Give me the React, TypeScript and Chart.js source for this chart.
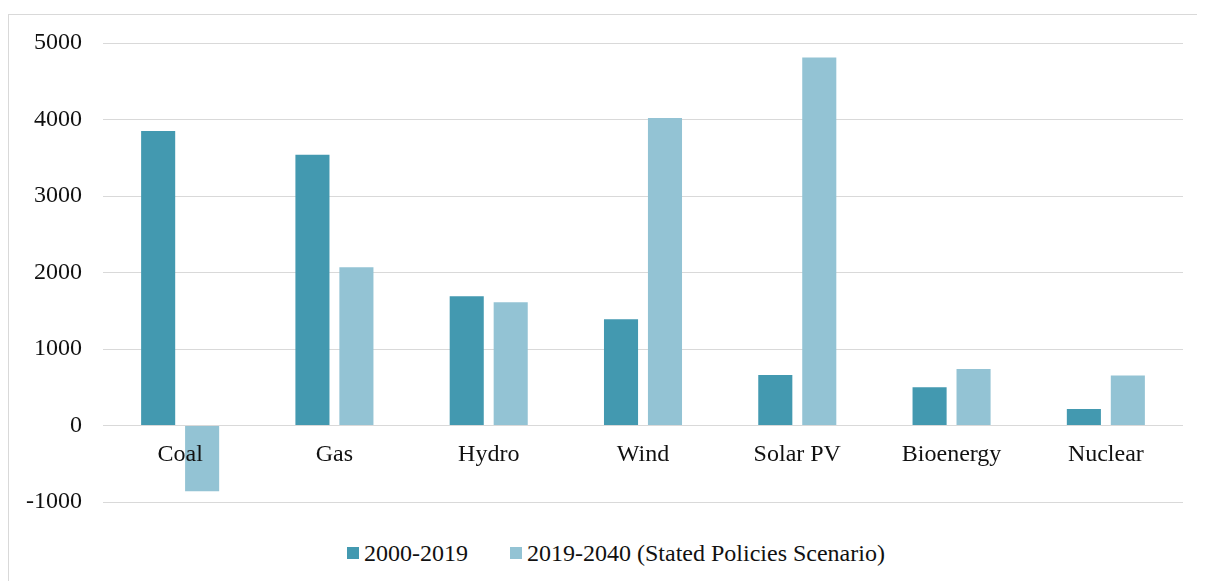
import React, { useEffect, useRef } from "react";
import { Chart, registerables } from "chart.js";

Chart.register(...registerables);

const categories = ["Coal", "Gas", "Hydro", "Wind", "Solar PV", "Bioenergy", "Nuclear"];
const series2000to2019 = [3850, 3540, 1690, 1390, 660, 500, 215];
const series2019to2040 = [-860, 2070, 1610, 4020, 4810, 740, 655];
const seriesLabels = ["2000-2019", "2019-2040 (Stated Policies Scenario)"];
const seriesColors = ["#4399B0", "#93C3D4"];
const yMin = -1000;
const yMax = 5000;
const yStep = 1000;

const FONT = "'Liberation Serif', 'Times New Roman', Times, serif";

export default function App() {
  const canvasRef = useRef<HTMLCanvasElement | null>(null);

  useEffect(() => {
    document.body.style.overflow = "hidden";
    const canvas = canvasRef.current;
    if (!canvas) return;
    const chart = new Chart(canvas, {
      type: "bar",
      data: {
        labels: categories,
        datasets: [
          {
            label: seriesLabels[0],
            data: series2000to2019,
            backgroundColor: seriesColors[0],
            borderWidth: 0,
          },
          {
            label: seriesLabels[1],
            data: series2019to2040,
            backgroundColor: seriesColors[1],
            borderWidth: 0,
          },
        ],
      },
      options: {
        responsive: false,
        animation: false,
        maintainAspectRatio: false,
        layout: { padding: { top: 28, bottom: 33, left: 0, right: 22 } },
        plugins: {
          legend: { display: false },
          tooltip: { enabled: false },
          title: { display: false },
        },
        datasets: {
          bar: { categoryPercentage: 0.57, barPercentage: 0.775 },
        },
        scales: {
          x: {
            position: { y: 0 } as any,
            z: 1,
            grid: { display: false, drawTicks: false },
            border: { display: false },
            ticks: {
              z: 1,
              color: "#111",
              font: { family: FONT, size: 24 },
              padding: 15,
              maxRotation: 0,
              autoSkip: false,
            },
          },
          y: {
            min: yMin,
            max: yMax,
            grid: { color: "#d9d9d9", lineWidth: 1, drawTicks: false },
            border: { display: false },
            ticks: {
              stepSize: yStep,
              color: "#111",
              font: { family: FONT, size: 24 },
              padding: 21,
              callback: (v: any) => String(v),
            },
            afterFit: (scale: any) => {
              scale.width = 94;
              scale.paddingTop = 0;
              scale.paddingBottom = 0;
            },
          },
        },
      },
    });
    return () => chart.destroy();
  }, []);

  return (
    <div
      style={{
        position: "relative",
        marginTop: 6,
        borderTop: "1px solid #d9d9d9",
        borderLeft: "1px solid #d9d9d9",
        width: 1196,
        height: 566,
        boxSizing: "content-box",
      }}
    >
      <canvas ref={canvasRef} width={1196} height={520} style={{ display: "block" }} />
      <div
        style={{
          position: "absolute",
          left: 338,
          top: 524,
          height: 28,
          display: "flex",
          alignItems: "center",
          fontFamily: FONT,
          fontSize: 24,
          lineHeight: "28px",
          color: "#111",
          whiteSpace: "nowrap",
        }}
      >
        {seriesLabels.map((lbl, i) => (
          <div
            key={lbl}
            style={{ display: "flex", alignItems: "center", marginRight: i === 0 ? 42 : 0 }}
          >
            <span
              style={{
                display: "inline-block",
                width: 12,
                height: 12,
                background: seriesColors[i],
                marginRight: 5,
              }}
            />
            <span>{lbl}</span>
          </div>
        ))}
      </div>
    </div>
  );
}
